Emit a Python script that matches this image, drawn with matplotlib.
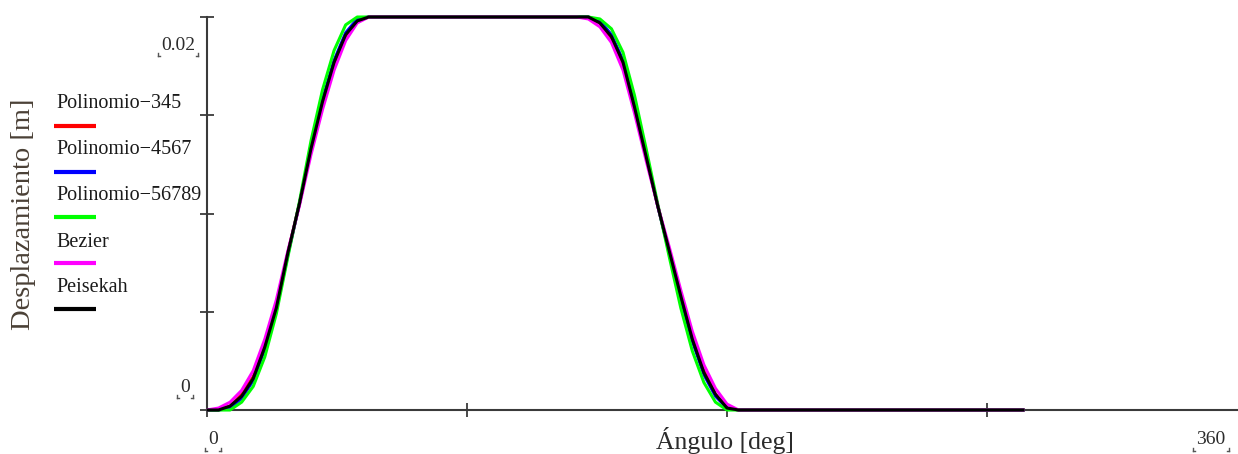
import matplotlib
matplotlib.use("Agg")
import matplotlib.pyplot as plt
from matplotlib.lines import Line2D

# ---------------- data ----------------
angle_rise = [0, 4, 8, 12, 16, 20, 24, 28, 32, 36, 40, 44, 48, 52, 56, 60]
angle_fall = [128, 132, 136, 140, 144, 148, 152, 156, 160, 164, 168, 172, 176, 180, 184]
angle_end = 283

series_names = ["Polinomio\u2212345", "Polinomio\u22124567", "Polinomio\u221256789", "Bezier", "Peisekah"]
series_colors = ["#ff0000", "#0000ff", "#00ff00", "#ff00ff", "#000000"]

pol345_rise = [0, 0.0000, 0.0002, 0.0008, 0.0017, 0.0033, 0.0053, 0.0080, 0.0105, 0.0132, 0.0156, 0.0176, 0.0190, 0.0198, 0.0200, 0.0200]
pol345_fall = [0.0200, 0.0200, 0.0197, 0.0189, 0.0176, 0.0153, 0.0129, 0.0104, 0.0081, 0.0059, 0.0037, 0.0020, 0.0008, 0.0001, 0.0]

pol4567_rise = [0, 0.0000, 0.0001, 0.0006, 0.0015, 0.0031, 0.0051, 0.0079, 0.0105, 0.0134, 0.0158, 0.0178, 0.0192, 0.0199, 0.0200, 0.0200]
pol4567_fall = [0.0200, 0.0200, 0.0198, 0.0191, 0.0178, 0.0155, 0.0130, 0.0104, 0.0080, 0.0057, 0.0035, 0.0018, 0.0007, 0.0001, 0.0]

pol56789_rise = [0, 0.0000, 0.0000, 0.0004, 0.0012, 0.0027, 0.0049, 0.0078, 0.0106, 0.0137, 0.0163, 0.0183, 0.0196, 0.0200, 0.0200, 0.0200]
pol56789_fall = [0.0200, 0.0200, 0.0199, 0.0194, 0.0182, 0.0160, 0.0133, 0.0105, 0.0078, 0.0052, 0.0030, 0.0014, 0.0004, 0.0000, 0.0]

bezier_rise = [0, 0.0001, 0.0004, 0.0010, 0.0020, 0.0036, 0.0056, 0.0081, 0.0104, 0.0130, 0.0153, 0.0173, 0.0188, 0.0197, 0.0200, 0.0200]
bezier_fall = [0.0200, 0.0199, 0.0195, 0.0187, 0.0173, 0.0151, 0.0127, 0.0104, 0.0083, 0.0061, 0.0040, 0.0023, 0.0011, 0.0003, 0.0]

peisekah_rise = [0, 0.0000, 0.0002, 0.0007, 0.0016, 0.0032, 0.0052, 0.0080, 0.0105, 0.0133, 0.0157, 0.0177, 0.0191, 0.0198, 0.0200, 0.0200]
peisekah_fall = [0.0200, 0.0200, 0.0197, 0.0190, 0.0177, 0.0154, 0.0129, 0.0104, 0.0081, 0.0058, 0.0036, 0.0019, 0.0008, 0.0001, 0.0]
end_value = 0.0

x_ticks = [0, 90, 180, 270, 360]
y_ticks = [0, 0.005, 0.01, 0.015, 0.02]
x_limits = (0, 360)
y_limits = (0, 0.02)
x_label = "\u00c1ngulo [deg]"
y_label = "Desplazamiento [m]"

# ---------------- figure ----------------
W, H = 1238, 454
fig = plt.figure(figsize=(W / 100, H / 100), dpi=100)
fig.patch.set_facecolor("white")

def fx(px):
    return px / W

def fy(py):
    return 1 - py / H

ax_left, ax_right, ax_top, ax_bottom = 207, 1247, 17, 410
ax = fig.add_axes([fx(ax_left), fy(ax_bottom), (ax_right - ax_left) / W, (ax_bottom - ax_top) / H])
ax.set_xlim(*x_limits)
ax.set_ylim(*y_limits)
ax.patch.set_alpha(0)

axis_color = "#3a3a3a"
for s in ["top", "right"]:
    ax.spines[s].set_visible(False)
for s in ["left", "bottom"]:
    ax.spines[s].set_color(axis_color)
    ax.spines[s].set_linewidth(1.5)
ax.set_xticks(x_ticks)
ax.set_yticks(y_ticks)
ax.tick_params(direction="inout", length=10, width=1.3, color=axis_color,
               labelbottom=False, labelleft=False)

all_rise = [pol345_rise, pol4567_rise, pol56789_rise, bezier_rise, peisekah_rise]
all_fall = [pol345_fall, pol4567_fall, pol56789_fall, bezier_fall, peisekah_fall]
for name, col, r, f in zip(series_names, series_colors, all_rise, all_fall):
    xs = list(angle_rise) + list(angle_fall) + [angle_end]
    ys = list(r) + list(f) + [end_value]
    ax.plot(xs, ys, color=col, lw=2.2, solid_capstyle="butt", clip_on=False, zorder=3)

serif = ["Liberation Serif", "DejaVu Serif"]
txt_color = "#2b2b2b"

# axis labels
fig.text(fx(725), fy(440), x_label, ha="center", va="center", fontsize=18.5,
         family=serif, color=txt_color)
fig.text(fx(24), fy(214), y_label, ha="center", va="center", fontsize=20.5,
         rotation=90, family=serif, color="#4a4036")

# Mathcad-style limit labels with corner marks
def limit_label(cx, cy, s):
    t = fig.text(fx(cx), fy(cy), s, ha="center", va="center", fontsize=14,
                 family=serif, color=txt_color)
    fig.canvas.draw()
    bb = t.get_window_extent()
    x0, x1 = bb.x0 - 3, bb.x1 + 3
    yb = bb.y0 + 1
    for xx, d in [(x0, 1), (x1, -1)]:
        fig.add_artist(Line2D([xx / W, xx / W], [yb / H, (yb - 3) / H], color="#555555", lw=1.0))
        fig.add_artist(Line2D([xx / W, (xx + 2 * d) / W], [(yb - 3) / H, (yb - 3) / H], color="#555555", lw=1.0))

limit_label(178, 45, "0.02")
limit_label(185, 387, "0")
limit_label(213, 440, "0")
limit_label(1211, 440, "360")

# legend (Mathcad trace labels)
leg_text_y = [104, 150, 196, 242, 288]
leg_line_y = [126, 172, 217, 263, 309]
for name, col, ty, ly in zip(series_names, series_colors, leg_text_y, leg_line_y):
    fig.text(fx(56), fy(ty), name, ha="left", va="center", fontsize=14.5,
             family=serif, color="#1a1a1a")
    fig.add_artist(Line2D([fx(54), fx(96)], [fy(ly), fy(ly)], color=col, lw=3.0,
                          solid_capstyle="butt"))

fig.savefig("out.png", dpi=100, facecolor="white")
